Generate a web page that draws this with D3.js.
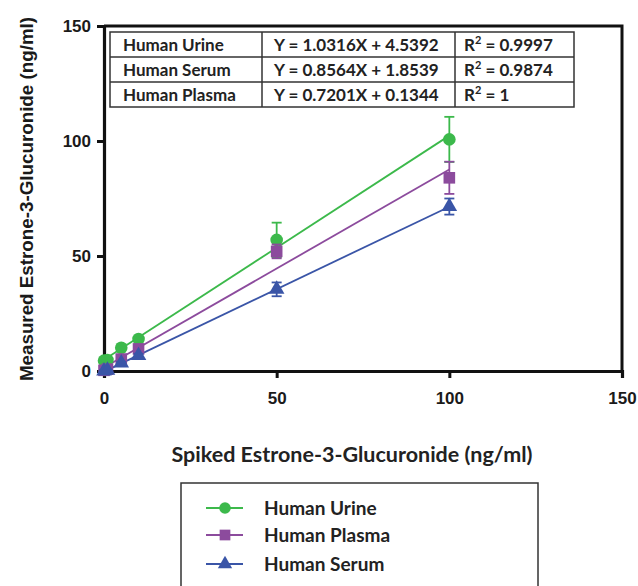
<!DOCTYPE html>
<html>
<head>
<meta charset="utf-8">
<script src="https://cdn.jsdelivr.net/npm/d3@7"></script>
<style>
  body { margin:0; background:#fff; }
  svg { display:block; }
</style>
</head>
<body>
<svg id="chart"></svg>
<script>
// spiked concentrations (ng/ml)
var spiked = [0, 1, 5, 10, 50, 100];

// measured means and error (SD) per matrix
var urine     = [4.5, 4.8, 10.1, 13.9, 57, 100.7];
var urineErr  = [0.5, 0.5, 0.8, 1, 7.5, 9.8];
var plasma    = [0.3, 0.8, 5.2, 9.6, 52, 84];
var plasmaErr = [0.5, 0.5, 0.8, 1, 3, 7];
var serum     = [0, 0.3, 3.5, 6.7, 35.5, 71.5];
var serumErr  = [0.3, 0.3, 0.5, 0.8, 3, 3.5];

var ticks = [0, 50, 100, 150];

// equation table
var tableNames = ["Human Urine", "Human Serum", "Human Plasma"];
var tableEqs   = ["Y = 1.0316X + 4.5392", "Y = 0.8564X + 1.8539", "Y = 0.7201X + 0.1344"];
var tableR2    = ["0.9997", "0.9874", "1"];

var legendNames = ["Human Urine", "Human Plasma", "Human Serum"];

var screen = {width:638, height:586};
var plot = {left:104, right:622, top:26, bottom:371};

var series = [
    {name:"Human Urine",  vals:urine,  err:urineErr,  color:"#3cb94b", shape:d3.symbolCircle,   size:125},
    {name:"Human Plasma", vals:plasma, err:plasmaErr, color:"#8c4b9d", shape:d3.symbolSquare,   size:135},
    {name:"Human Serum",  vals:serum,  err:serumErr,  color:"#3a55a7", shape:d3.symbolTriangle, size:105}
];

var svg = d3.select("#chart")
    .attr("width", screen.width)
    .attr("height", screen.height);

var xscale = d3.scaleLinear().domain([0,150]).range([plot.left, plot.right]);
var yscale = d3.scaleLinear().domain([0,150]).range([plot.bottom, plot.top]);

// frame (top + right)
svg.append("path")
    .attr("d", "M"+plot.left+","+plot.top+"H"+plot.right+"V"+plot.bottom)
    .attr("fill","none").attr("stroke","#111").attr("stroke-width",3);

var xAxis = svg.append("g")
    .attr("transform","translate(0,"+plot.bottom+")")
    .call(d3.axisBottom(xscale).tickValues(ticks).tickSize(7).tickPadding(14));
var yAxis = svg.append("g")
    .attr("transform","translate("+plot.left+",0)")
    .call(d3.axisLeft(yscale).tickValues(ticks).tickSize(7).tickPadding(6));

[xAxis, yAxis].forEach(function(ax){
    ax.select(".domain").attr("stroke","#111").attr("stroke-width",3.2);
    ax.selectAll(".tick line").attr("stroke","#111").attr("stroke-width",3);
    ax.selectAll(".tick text")
        .attr("fill","#1a1a1a")
        .style("font-family","'Liberation Sans', Arial, sans-serif")
        .style("font-weight","bold")
        .style("font-size","17px");
});

// least squares fit of each series
var fit = function(xs, ys)
    {
        var mx = d3.mean(xs), my = d3.mean(ys);
        var sxy = d3.sum(xs, function(x,i){ return (x-mx)*(ys[i]-my); });
        var sxx = d3.sum(xs, function(x){ return (x-mx)*(x-mx); });
        var b = sxy/sxx;
        return {slope:b, icpt:my - b*mx};
    };

series.forEach(function(s){
    var f = fit(spiked, s.vals);
    var x0 = d3.min(spiked), x1 = d3.max(spiked);
    svg.append("line")
        .attr("x1", xscale(x0)).attr("y1", yscale(f.icpt + f.slope*x0))
        .attr("x2", xscale(x1)).attr("y2", yscale(f.icpt + f.slope*x1))
        .attr("stroke", s.color).attr("stroke-width", 1.8);
});

series.forEach(function(s){
    var g = svg.append("g");
    var pts = spiked.map(function(x,i){ return {x:x, y:s.vals[i], e:s.err[i]}; });
    var eb = g.selectAll(".eb").data(pts).enter().append("g")
        .attr("stroke", s.color).attr("stroke-width", 1.8);
    eb.append("line")
        .attr("x1", function(d){ return xscale(d.x); })
        .attr("x2", function(d){ return xscale(d.x); })
        .attr("y1", function(d){ return yscale(d.y + d.e); })
        .attr("y2", function(d){ return yscale(d.y - d.e); });
    eb.append("line")
        .attr("x1", function(d){ return xscale(d.x)-5; })
        .attr("x2", function(d){ return xscale(d.x)+5; })
        .attr("y1", function(d){ return yscale(d.y + d.e); })
        .attr("y2", function(d){ return yscale(d.y + d.e); });
    eb.append("line")
        .attr("x1", function(d){ return xscale(d.x)-5; })
        .attr("x2", function(d){ return xscale(d.x)+5; })
        .attr("y1", function(d){ return yscale(d.y - d.e); })
        .attr("y2", function(d){ return yscale(d.y - d.e); });
    g.selectAll(".pt").data(pts).enter().append("path")
        .attr("d", d3.symbol().type(s.shape).size(s.size))
        .attr("transform", function(d){ return "translate("+xscale(d.x)+","+yscale(d.y)+")"; })
        .attr("fill", s.color);
});

// equation table
var table = {left:110, top:32, rowH:25, cols:[110, 262, 455, 574]};
var tg = svg.append("g");
tg.append("rect")
    .attr("x", table.left).attr("y", table.top)
    .attr("width", table.cols[3]-table.left).attr("height", table.rowH*3)
    .attr("fill","#fff").attr("stroke","#333").attr("stroke-width",1.5);
[1,2].forEach(function(r){
    tg.append("line")
        .attr("x1", table.left).attr("x2", table.cols[3])
        .attr("y1", table.top + r*table.rowH).attr("y2", table.top + r*table.rowH)
        .attr("stroke","#333").attr("stroke-width",1.5);
});
[1,2].forEach(function(c){
    tg.append("line")
        .attr("x1", table.cols[c]).attr("x2", table.cols[c])
        .attr("y1", table.top).attr("y2", table.top + 3*table.rowH)
        .attr("stroke","#333").attr("stroke-width",1.5);
});
var tfont = function(sel)
    {
        sel.style("font-family","Lato, 'Open Sans', sans-serif")
           .style("font-weight","bold")
           .style("font-size","17px")
           .attr("fill","#222");
    };
tableNames.forEach(function(n, i){
    var yb = table.top + i*table.rowH + 18.5;
    tg.append("text").attr("x", 123).attr("y", yb).text(n).call(tfont);
    tg.append("text").attr("x", 274).attr("y", yb).text(tableEqs[i]).call(tfont);
    var t = tg.append("text").attr("x", 464).attr("y", yb).call(tfont);
    t.append("tspan").text("R");
    t.append("tspan").attr("dy",-7).style("font-size","11px").text("2");
    t.append("tspan").attr("dy",7).text(" = " + tableR2[i]);
});

// axis titles
svg.append("text")
    .attr("transform","translate(33,199) rotate(-90)")
    .attr("text-anchor","middle")
    .style("font-family","'Liberation Sans', Arial, sans-serif")
    .style("font-weight","bold")
    .style("font-size","18.8px")
    .attr("fill","#1a1a1a")
    .text("Measured Estrone-3-Glucuronide (ng/ml)");

svg.append("text")
    .attr("x", 352).attr("y", 462)
    .attr("text-anchor","middle")
    .style("font-family","Lato, sans-serif")
    .style("font-weight","bold")
    .style("font-size","21.5px")
    .attr("fill","#222")
    .text("Spiked Estrone-3-Glucuronide (ng/ml)");

// legend
var lg = svg.append("g");
lg.append("rect")
    .attr("x",181).attr("y",483).attr("width",357).attr("height",130)
    .attr("fill","#fff").attr("stroke","#333").attr("stroke-width",1.5);
var legendRows = [508, 535, 564];
legendNames.forEach(function(n, i){
    var s = series.filter(function(d){ return d.name === n; })[0];
    var y = legendRows[i];
    lg.append("line").attr("x1",206).attr("x2",243).attr("y1",y).attr("y2",y)
        .attr("stroke", s.color).attr("stroke-width",1.8);
    lg.append("path")
        .attr("d", d3.symbol().type(s.shape).size(s.size*0.85))
        .attr("transform","translate(225,"+y+")")
        .attr("fill", s.color);
    lg.append("text").attr("x",264).attr("y",y+7).text(n)
        .style("font-family","Lato, sans-serif")
        .style("font-weight","bold")
        .style("font-size","19px")
        .attr("fill","#222");
});
</script>
</body>
</html>
